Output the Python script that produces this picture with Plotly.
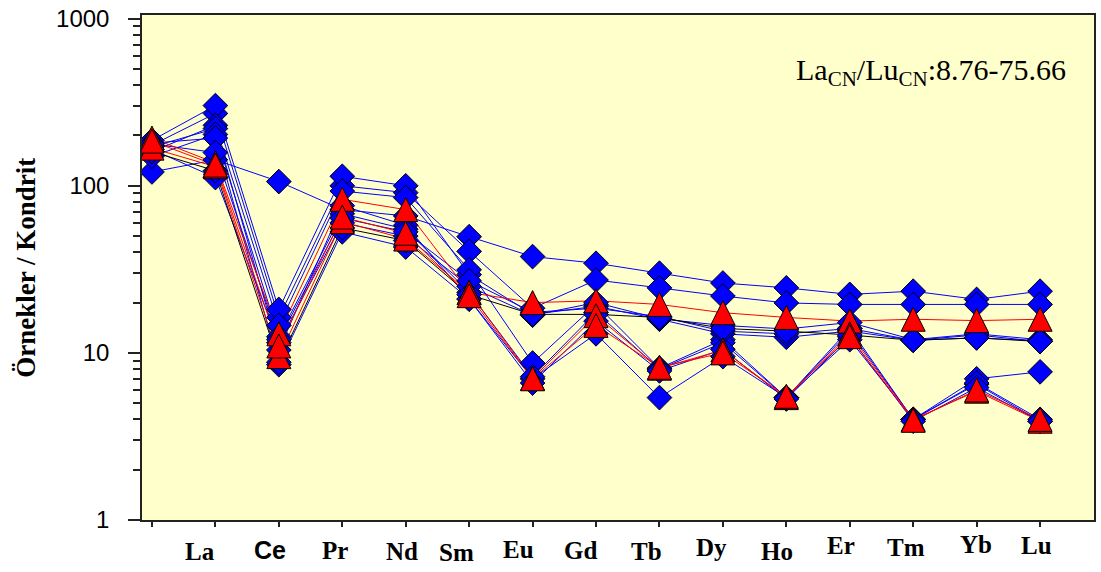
import plotly.graph_objects as go

# Chondrite-normalised REE pattern: column 0 is an unlabelled leading column
elements = ["", "La", "Ce", "Pr", "Nd", "Sm", "Eu", "Gd", "Tb", "Dy", "Ho", "Er", "Tm", "Yb", "Lu"]

# blue-diamond samples
blue_b1 = [121, 143, 106, 72, 66, 49.6, 37.7, 34.4, 30.0, 26.2, 24.5, 22.4, 23.4, 20.9, 23.4]
blue_b2 = [175, 271, 16.3, 100, 91, 40.5, 18.5, 27.3, 24.5, 21.9, 19.9, 19.5, 19.5, 19.5, 19.5]
blue_b3 = [187, 302, 18.2, 114, 100, 29.4, 17.0, 19.0, 15.9, 13.0, 12.4, 13.5, 11.9, 12.8, 11.7]
blue_b4 = [160, 230, 14.6, 93, 85, 31.4, 8.7, 19.5, 8.1, 12.0, 5.4, 14.0, 4.0, 7.0, 7.7]
blue_b5 = [171, 220, 10.4, 76, 58, 21.0, 7.0, 13.0, 5.4, 9.5, 5.4, 12.0, 4.0, 6.5, 3.9]
blue_b6 = [150, 203, 12.5, 68, 55, 23.0, 7.2, 17.5, 8.0, 11.5, 5.4, 13.5, 4.0, 6.6, 4.0]
blue_b7 = [180, 193, 8.5, 53, 43, 21.0, 6.6, 15.5, 7.8, 10.5, 5.3, 12.5, 3.9, 6.2, 3.9]
blue_b8 = [165, 112, 11.5, 60, 50, 25.0, 16.8, 20.0, 16.0, 14.6, 13.9, 15.2, 12.0, 13.0, 12.0]
blue_b9 = [178, 158, 12.0, 64, 53, 27.0, 17.5, 18.5, 16.5, 13.5, 13.0, 14.0, 11.9, 12.3, 11.8]
# blue-diamond sample joined by a black line
black_k1 = [160, 123, 8.8, 56, 47, 22.3, 17.0, 17.0, 16.3, 14.0, 13.5, 12.8, 11.9, 12.3, 11.7]
# red-triangle samples
red_r1 = [193, 137, 13.0, 83, 72, 23.0, 20.0, 20.5, 19.5, 17.4, 16.3, 15.5, 15.9, 15.6, 15.9]
red_r2 = [168, 130, 9.5, 61, 48, 23.0, 7.05, 16.7, 8.1, 10.4, 5.4, 13.0, 4.0, 5.9, 3.9]
red_r3 = [185, 133, 11.0, 65, 52, 22.0, 7.0, 14.6, 8.2, 10.0, 5.5, 12.5, 3.95, 6.0, 4.0]

ratio_text = "La<sub>CN</sub>/Lu<sub>CN</sub>:8.76-75.66"
y_title = "Örnekler / Kondrit"
y_ticks = [1, 10, 100, 1000]

BLUE, RED, BLACK = "#0000FF", "#FF0000", "#000000"

samples = [
    (blue_b1, BLUE, "diamond"), (blue_b2, BLUE, "diamond"), (blue_b3, BLUE, "diamond"),
    (blue_b4, BLUE, "diamond"), (blue_b5, BLUE, "diamond"), (blue_b6, BLUE, "diamond"),
    (blue_b7, BLUE, "diamond"), (blue_b8, BLUE, "diamond"), (blue_b9, BLUE, "diamond"),
    (black_k1, BLACK, "diamond"),
    (red_r1, RED, "triangle"), (red_r2, RED, "triangle"), (red_r3, RED, "triangle"),
]

xs = list(range(len(elements)))
fig = go.Figure()

# connecting lines first so every marker sits above them
for vals, col, _ in samples:
    fig.add_trace(go.Scatter(x=xs, y=vals, mode="lines",
                             line=dict(color=col, width=1), hoverinfo="skip"))

for vals, col, kind in samples:
    if kind == "diamond":
        mk = dict(symbol="diamond", size=19, color=BLUE,
                  line=dict(color="#000000", width=1))
    else:
        # upward triangle, about as tall as it is wide, centred on the value
        mk = dict(symbol="arrow-down", angle=180, size=24, standoff=12, color=RED,
                  line=dict(color="#000000", width=1))
    fig.add_trace(go.Scatter(x=xs, y=vals, mode="markers", marker=mk))

# element names under the axis, each nudged slightly (px)
label_dx = [-15, -9, -7, -4, -13, -14, -16, -13, -11, -9, -9, -7, -1, -4]
label_baseline = [560, 558, 559, 560, 561, 558, 559, 560, 556, 560, 554, 556, 553, 554]

PLOT_TOP, PLOT_BOTTOM = 8, 520
PLOT_LEFT, PLOT_RIGHT = 142, 1096
plot_h = PLOT_BOTTOM - PLOT_TOP
plot_w = PLOT_RIGHT - PLOT_LEFT

annotations = []
for i, name in enumerate(elements[1:], start=1):
    fam = "Arial, Liberation Sans, sans-serif" if name == "Ce" else "Times New Roman, Liberation Serif, serif"
    annotations.append(dict(
        x=i, xref="x", y=0, yref="paper", xanchor="center", yanchor="top",
        xshift=label_dx[i - 1], yshift=-(label_baseline[i - 1] - 24 - PLOT_BOTTOM),
        text=f"<b>{name}</b>", showarrow=False,
        font=dict(family=fam, size=25, color="#000000")))

annotations.append(dict(
    x=(795 - PLOT_LEFT) / plot_w, xref="paper", xanchor="left",
    y=(PLOT_BOTTOM - 66) / plot_h, yref="paper", yanchor="middle",
    text=ratio_text, showarrow=False,
    font=dict(family="Times New Roman, Liberation Serif, serif", size=30, color="#000000")))

annotations.append(dict(
    x=(25 - PLOT_LEFT) / plot_w, xref="paper", xanchor="center",
    y=0.5, yref="paper", yanchor="middle", textangle=-90,
    text=f"<b>{y_title}</b>", showarrow=False,
    font=dict(family="Times New Roman, Liberation Serif, serif", size=27, color="#000000")))

minor_vals = [m * 10 ** d for d in range(3) for m in range(2, 10)]

fig.update_layout(
    width=1101, height=572,
    margin=dict(l=PLOT_LEFT, r=1101 - PLOT_RIGHT, t=PLOT_TOP, b=572 - PLOT_BOTTOM),
    paper_bgcolor="#FFFFFF", plot_bgcolor="#FFFFCC",
    showlegend=False,
    annotations=annotations,
    xaxis=dict(range=[-0.157, 14.85], tickmode="array", tickvals=xs,
               showticklabels=False, ticks="outside", ticklen=5, tickwidth=1.5,
               tickcolor="#222222", showline=True, linecolor="#222222", linewidth=1.5,
               mirror=True, showgrid=False, zeroline=False),
    yaxis=dict(type="log", range=[0, 3.022], tickmode="array",
               tickvals=y_ticks, ticktext=[str(v) for v in y_ticks],
               ticks="outside", ticklen=12, tickwidth=1.5, tickcolor="#222222",
               ticklabelstandoff=14, ticklabeloverflow="allow",
               tickfont=dict(family="Arial, Liberation Sans, sans-serif", size=24, color="#000000"),
               minor=dict(tickmode="array", tickvals=minor_vals, ticks="outside",
                          ticklen=7, tickwidth=1.5, tickcolor="#222222", showgrid=False),
               showline=True, linecolor="#222222", linewidth=1.5, mirror=True,
               showgrid=False, zeroline=False),
)

fig.write_html("out.html")
